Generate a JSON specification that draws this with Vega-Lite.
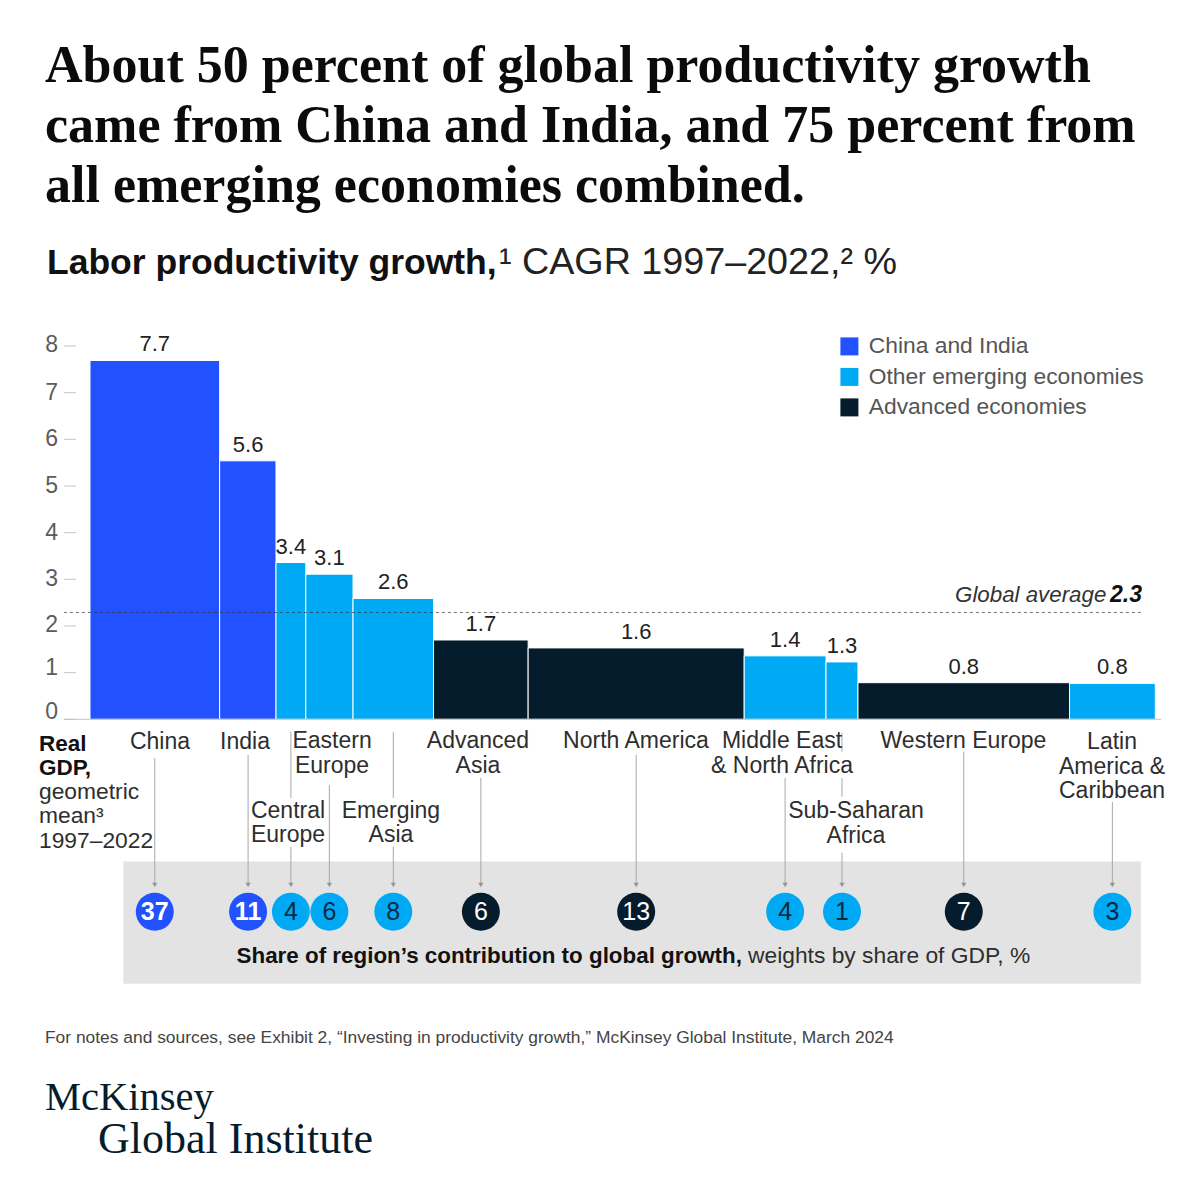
{
  "$schema": "https://vega.github.io/schema/vega-lite/v6.json",
  "width": 1200,
  "height": 1200,
  "padding": 0,
  "autosize": "none",
  "background": "white",
  "title": {
    "text": ["About 50 percent of global productivity growth", "came from China and India, and 75 percent from", "all emerging economies combined."],
    "anchor": "start",
    "frame": "group",
    "orient": "top",
    "offset": 0,
    "dx": 45,
    "dy": 253.5,
    "baseline": "alphabetic",
    "lineHeight": 60,
    "font": "Liberation Serif",
    "fontSize": 52,
    "fontWeight": "bold",
    "color": "#0b0b0b"
  },
  "datasets": {
    "bars": [
      {"region": "China", "group": "China and India", "x0": 0, "x1": 12.17, "mid": 6.08, "growth": 7.69, "label": "7.7", "share": 37},
      {"region": "India", "group": "China and India", "x0": 12.17, "x1": 17.46, "mid": 14.84, "growth": 5.54, "label": "5.6", "share": 11},
      {"region": "Central Europe", "group": "Other emerging economies", "x0": 17.46, "x1": 20.26, "mid": 18.86, "growth": 3.36, "label": "3.4", "share": 4},
      {"region": "Eastern Europe", "group": "Other emerging economies", "x0": 20.26, "x1": 24.69, "mid": 22.47, "growth": 3.11, "label": "3.1", "share": 6},
      {"region": "Emerging Asia", "group": "Other emerging economies", "x0": 24.69, "x1": 32.25, "mid": 28.47, "growth": 2.59, "label": "2.6", "share": 8},
      {"region": "Advanced Asia", "group": "Advanced economies", "x0": 32.25, "x1": 41.13, "mid": 36.69, "growth": 1.7, "label": "1.7", "share": 6},
      {"region": "North America", "group": "Advanced economies", "x0": 41.13, "x1": 61.41, "mid": 51.27, "growth": 1.53, "label": "1.6", "share": 13},
      {"region": "Middle East & North Africa", "group": "Other emerging economies", "x0": 61.41, "x1": 69.09, "mid": 65.25, "growth": 1.36, "label": "1.4", "share": 4},
      {"region": "Sub-Saharan Africa", "group": "Other emerging economies", "x0": 69.09, "x1": 72.09, "mid": 70.59, "growth": 1.23, "label": "1.3", "share": 1},
      {"region": "Western Europe", "group": "Advanced economies", "x0": 72.09, "x1": 91.95, "mid": 82.02, "growth": 0.785, "label": "0.8", "share": 7},
      {"region": "Latin America & Caribbean", "group": "Other emerging economies", "x0": 91.95, "x1": 100, "mid": 95.97, "growth": 0.77, "label": "0.8", "share": 3}
    ],
    "ticks": [
      {"value": 0, "labelAt": 0.16, "x0": -2.45, "x1": -1.33, "labelX": -3.0},
      {"value": 1, "labelAt": 1.09, "x0": -2.45, "x1": -1.33, "labelX": -3.0},
      {"value": 2, "labelAt": 2.02, "x0": -2.45, "x1": -1.33, "labelX": -3.0},
      {"value": 3, "labelAt": 3, "x0": -2.45, "x1": -1.33, "labelX": -3.0},
      {"value": 4, "labelAt": 4, "x0": -2.45, "x1": -1.33, "labelX": -3.0},
      {"value": 5, "labelAt": 5, "x0": -2.45, "x1": -1.33, "labelX": -3.0},
      {"value": 6, "labelAt": 6, "x0": -2.45, "x1": -1.33, "labelX": -3.0},
      {"value": 7, "labelAt": 7, "x0": -2.45, "x1": -1.33, "labelX": -3.0},
      {"value": 8, "labelAt": 8.02, "x0": -2.45, "x1": -1.33, "labelX": -3.0}
    ],
    "leaders": [
      {"x": 6.08, "top": -0.829, "end": -3.551},
      {"x": 14.84, "top": -0.765, "end": -3.551},
      {"x": 18.86, "top": -0.266, "end": -1.687},
      {"x": 18.86, "top": -2.73, "end": -3.551},
      {"x": 22.47, "top": -1.408, "end": -3.551},
      {"x": 28.47, "top": -0.266, "end": -1.687},
      {"x": 28.47, "top": -2.73, "end": -3.551},
      {"x": 36.69, "top": -1.258, "end": -3.551},
      {"x": 51.27, "top": -0.765, "end": -3.551},
      {"x": 65.25, "top": -1.258, "end": -3.551},
      {"x": 70.59, "top": -0.294, "end": -0.694},
      {"x": 70.59, "top": -1.258, "end": -1.659},
      {"x": 70.59, "top": -2.859, "end": -3.551},
      {"x": 82.02, "top": -0.694, "end": -3.551},
      {"x": 95.97, "top": -1.772, "end": -3.551}
    ],
    "notes": [
      {"kind": "region", "text": "China", "x": 6.57, "y": -0.637},
      {"kind": "region", "text": "India", "x": 14.55, "y": -0.637},
      {"kind": "region", "text": "Eastern\nEurope", "x": 22.72, "y": -0.615},
      {"kind": "region", "text": "Central\nEurope", "x": 18.59, "y": -2.109},
      {"kind": "region", "text": "Emerging\nAsia", "x": 28.25, "y": -2.109},
      {"kind": "region", "text": "Advanced\nAsia", "x": 36.42, "y": -0.615},
      {"kind": "region", "text": "North America", "x": 51.25, "y": -0.615},
      {"kind": "region", "text": "Middle East\n& North Africa", "x": 64.96, "y": -0.615},
      {"kind": "region", "text": "Sub-Saharan\nAfrica", "x": 71.9, "y": -2.122},
      {"kind": "region", "text": "Western Europe", "x": 81.99, "y": -0.615},
      {"kind": "region", "text": "Latin\nAmerica &\nCaribbean", "x": 95.94, "y": -0.637},
      {"kind": "gdpBold", "text": "Real\nGDP,", "x": -4.787, "y": -0.673},
      {"kind": "gdpRegular", "text": "geometric\nmean³\n1997–2022", "x": -4.787, "y": -1.7},
      {"kind": "subBold", "text": "Labor productivity growth,", "x": -4.036, "y": 9.544},
      {"kind": "subRegular", "text": "¹ CAGR 1997–2022,² %", "x": 38.39, "y": 9.544},
      {"kind": "avgRegular", "text": "Global average", "x": 95.4, "y": 2.512},
      {"kind": "avgBold", "text": "2.3", "x": 95.75, "y": 2.512},
      {"kind": "shareBold", "text": "Share of region’s contribution to global growth,", "x": 61.2, "y": -5.23},
      {"kind": "shareRegular", "text": "weights by share of GDP, %", "x": 61.77, "y": -5.23},
      {"kind": "footnote", "text": "For notes and sources, see Exhibit 2, “Investing in productivity growth,” McKinsey Global Institute, March 2024", "x": -4.224, "y": -6.931},
      {"kind": "logoTop", "text": "McKinsey", "x": -4.224, "y": -8.373},
      {"kind": "logoBottom", "text": "Global Institute", "x": 0.751, "y": -9.301}
    ]
  },
  "encoding": {
    "x": {"type": "quantitative", "scale": {"domain": [-8.448, 104.196], "nice": false, "zero": false}, "axis": null},
    "y": {"type": "quantitative", "scale": {"domain": [-10.302, 15.416], "nice": false, "zero": false}, "axis": null}
  },
  "layer": [
    {
      "data": {"values": [{"x0": 3.123, "x1": 98.64, "y0": -3.046, "y1": -5.665}]},
      "mark": {"type": "rect", "color": "#e3e3e3"},
      "encoding": {
        "x": {"field": "x0"},
        "x2": {"field": "x1"},
        "y": {"field": "y0"},
        "y2": {"field": "y1"}
      }
    },
    {
      "data": {"name": "ticks"},
      "mark": {"type": "rule", "color": "#c4c4c4", "strokeWidth": 1},
      "encoding": {"x": {"field": "x0"}, "x2": {"field": "x1"}, "y": {"field": "value"}}
    },
    {
      "data": {"name": "ticks"},
      "mark": {"type": "text", "font": "Liberation Sans", "fontSize": 23, "align": "right", "baseline": "middle", "color": "#5c5c5c"},
      "encoding": {"x": {"field": "labelX"}, "y": {"field": "labelAt"}, "text": {"field": "value"}}
    },
    {
      "data": {"name": "bars"},
      "mark": {"type": "rect", "stroke": "white", "strokeWidth": 1},
      "encoding": {
        "x": {"field": "x0"},
        "x2": {"field": "x1"},
        "y": {"field": "growth"},
        "y2": {"datum": 0},
        "color": {
          "field": "group",
          "type": "nominal",
          "scale": {
            "domain": ["China and India", "Other emerging economies", "Advanced economies"],
            "range": ["#2251ff", "#00a9f4", "#051c2c"]
          },
          "legend": {
            "orient": "none",
            "legendX": 838,
            "legendY": 335,
            "title": null,
            "symbolType": "square",
            "symbolSize": 324,
            "symbolStrokeWidth": 0,
            "rowPadding": 6.5,
            "labelFont": "Liberation Sans",
            "labelFontSize": 22.8,
            "labelColor": "#555555",
            "labelOffset": 8,
            "labelLimit": 320
          }
        }
      }
    },
    {
      "data": {"values": [{"x0": -2.45, "x1": 100.55, "value": 0}]},
      "mark": {"type": "rule", "color": "#c4c4c4", "strokeWidth": 1},
      "encoding": {"x": {"field": "x0"}, "x2": {"field": "x1"}, "y": {"field": "value"}}
    },
    {
      "data": {"values": [{"x0": -2.45, "x1": 98.64, "value": 2.29}]},
      "mark": {"type": "rule", "color": "#333333", "strokeWidth": 0.7, "strokeDash": [3, 3]},
      "encoding": {"x": {"field": "x0"}, "x2": {"field": "x1"}, "y": {"field": "value"}}
    },
    {
      "data": {"name": "bars"},
      "mark": {"type": "text", "font": "Liberation Sans", "fontSize": 22, "dy": -9, "baseline": "alphabetic", "color": "#222222"},
      "encoding": {"x": {"field": "mid"}, "y": {"field": "growth"}, "text": {"field": "label"}}
    },
    {
      "data": {"name": "leaders"},
      "mark": {"type": "rule", "color": "#a8a8a8", "strokeWidth": 1},
      "encoding": {"x": {"field": "x"}, "y": {"field": "top"}, "y2": {"field": "end"}}
    },
    {
      "data": {"name": "leaders"},
      "transform": [{"filter": "datum.end == -3.551"}],
      "mark": {"type": "point", "shape": "triangle-down", "filled": true, "size": 30, "color": "#7d7d7d"},
      "encoding": {"x": {"field": "x"}, "y": {"field": "end"}}
    },
    {
      "data": {"name": "bars"},
      "transform": [{"calculate": "-4.124", "as": "row"}],
      "mark": {"type": "point", "filled": true, "shape": "circle", "size": 1444, "opacity": 1},
      "encoding": {
        "x": {"field": "mid"},
        "y": {"field": "row"},
        "color": {"field": "group", "type": "nominal", "legend": null}
      }
    },
    {
      "data": {"name": "bars"},
      "transform": [{"calculate": "-4.124", "as": "row"}, {"filter": "datum.group != 'China and India'"}],
      "mark": {"type": "text", "font": "Liberation Sans", "fontSize": 25, "baseline": "middle"},
      "encoding": {
        "x": {"field": "mid"},
        "y": {"field": "row"},
        "text": {"field": "share"},
        "color": {"condition": {"test": "datum.group == 'Advanced economies'", "value": "#ffffff"}, "value": "#0a2a40"}
      }
    },
    {
      "data": {"name": "bars"},
      "transform": [{"calculate": "-4.124", "as": "row"}, {"filter": "datum.group == 'China and India'"}],
      "mark": {"type": "text", "font": "Liberation Sans", "fontSize": 25, "fontWeight": "bold", "baseline": "middle", "color": "#ffffff"},
      "encoding": {"x": {"field": "mid"}, "y": {"field": "row"}, "text": {"field": "share"}}
    },
    {
      "data": {"name": "notes"},
      "transform": [{"filter": "datum.kind == 'region'"}],
      "mark": {"type": "text", "font": "Liberation Sans", "fontSize": 23, "align": "center", "baseline": "alphabetic", "lineBreak": "\n", "lineHeight": 24.5, "color": "#2e2e2e"},
      "encoding": {"x": {"field": "x"}, "y": {"field": "y"}, "text": {"field": "text"}}
    },
    {
      "data": {"name": "notes"},
      "transform": [{"filter": "datum.kind == 'gdpBold'"}],
      "mark": {"type": "text", "font": "Liberation Sans", "fontSize": 22.5, "fontWeight": "bold", "align": "left", "baseline": "alphabetic", "lineBreak": "\n", "lineHeight": 24.5, "color": "#111111"},
      "encoding": {"x": {"field": "x"}, "y": {"field": "y"}, "text": {"field": "text"}}
    },
    {
      "data": {"name": "notes"},
      "transform": [{"filter": "datum.kind == 'gdpRegular'"}],
      "mark": {"type": "text", "font": "Liberation Sans", "fontSize": 22.8, "align": "left", "baseline": "alphabetic", "lineBreak": "\n", "lineHeight": 24.5, "color": "#2e2e2e"},
      "encoding": {"x": {"field": "x"}, "y": {"field": "y"}, "text": {"field": "text"}}
    },
    {
      "data": {"name": "notes"},
      "transform": [{"filter": "datum.kind == 'subBold'"}],
      "mark": {"type": "text", "font": "Liberation Sans", "fontSize": 35.5, "fontWeight": "bold", "align": "left", "baseline": "alphabetic", "color": "#111111"},
      "encoding": {"x": {"field": "x"}, "y": {"field": "y"}, "text": {"field": "text"}}
    },
    {
      "data": {"name": "notes"},
      "transform": [{"filter": "datum.kind == 'subRegular'"}],
      "mark": {"type": "text", "font": "Liberation Sans", "fontSize": 37.7, "align": "left", "baseline": "alphabetic", "color": "#222222"},
      "encoding": {"x": {"field": "x"}, "y": {"field": "y"}, "text": {"field": "text"}}
    },
    {
      "data": {"name": "notes"},
      "transform": [{"filter": "datum.kind == 'avgRegular'"}],
      "mark": {"type": "text", "font": "Liberation Sans", "fontSize": 22.3, "fontStyle": "italic", "align": "right", "baseline": "alphabetic", "color": "#333333"},
      "encoding": {"x": {"field": "x"}, "y": {"field": "y"}, "text": {"field": "text"}}
    },
    {
      "data": {"name": "notes"},
      "transform": [{"filter": "datum.kind == 'avgBold'"}],
      "mark": {"type": "text", "font": "Liberation Sans", "fontSize": 23, "fontStyle": "italic", "fontWeight": "bold", "align": "left", "baseline": "alphabetic", "color": "#111111"},
      "encoding": {"x": {"field": "x"}, "y": {"field": "y"}, "text": {"field": "text"}}
    },
    {
      "data": {"name": "notes"},
      "transform": [{"filter": "datum.kind == 'shareBold'"}],
      "mark": {"type": "text", "font": "Liberation Sans", "fontSize": 22.4, "fontWeight": "bold", "align": "right", "baseline": "alphabetic", "color": "#111111"},
      "encoding": {"x": {"field": "x"}, "y": {"field": "y"}, "text": {"field": "text"}}
    },
    {
      "data": {"name": "notes"},
      "transform": [{"filter": "datum.kind == 'shareRegular'"}],
      "mark": {"type": "text", "font": "Liberation Sans", "fontSize": 22.8, "align": "left", "baseline": "alphabetic", "color": "#2e2e2e"},
      "encoding": {"x": {"field": "x"}, "y": {"field": "y"}, "text": {"field": "text"}}
    },
    {
      "data": {"name": "notes"},
      "transform": [{"filter": "datum.kind == 'footnote'"}],
      "mark": {"type": "text", "font": "Liberation Sans", "fontSize": 17.4, "align": "left", "baseline": "alphabetic", "color": "#444444"},
      "encoding": {"x": {"field": "x"}, "y": {"field": "y"}, "text": {"field": "text"}}
    },
    {
      "data": {"name": "notes"},
      "transform": [{"filter": "datum.kind == 'logoTop'"}],
      "mark": {"type": "text", "font": "Liberation Serif", "fontSize": 40.5, "align": "left", "baseline": "alphabetic", "color": "#051c2c"},
      "encoding": {"x": {"field": "x"}, "y": {"field": "y"}, "text": {"field": "text"}}
    },
    {
      "data": {"name": "notes"},
      "transform": [{"filter": "datum.kind == 'logoBottom'"}],
      "mark": {"type": "text", "font": "Liberation Serif", "fontSize": 44, "align": "left", "baseline": "alphabetic", "color": "#051c2c"},
      "encoding": {"x": {"field": "x"}, "y": {"field": "y"}, "text": {"field": "text"}}
    }
  ],
  "config": {"view": {"stroke": null}}
}
